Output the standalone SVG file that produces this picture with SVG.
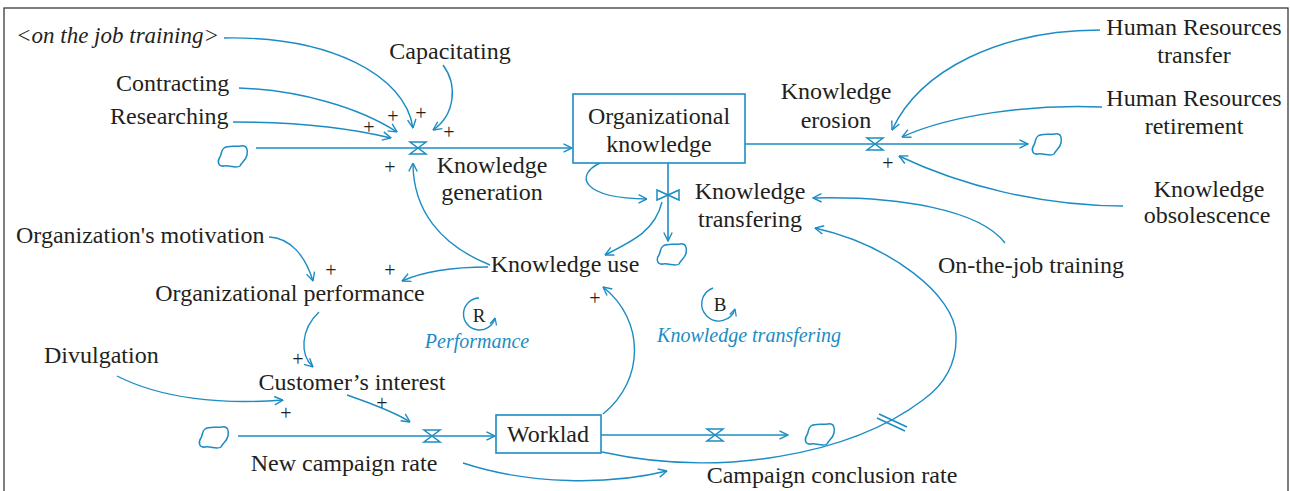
<svg xmlns="http://www.w3.org/2000/svg" width="1290" height="491" viewBox="0 0 1290 491">
<style>
.t{font-family:"Liberation Serif",serif;font-size:24px;fill:#231f20}
.m{text-anchor:middle}
.it{font-style:italic;font-size:23px}
.lb{font-family:"Liberation Serif",serif;font-size:20px;font-style:italic;fill:#1c8cc4;text-anchor:middle}
.p{font-family:"Liberation Serif",serif;font-size:20px;fill:#231f20;text-anchor:middle}
.c{fill:none;stroke:#1c8cc4;stroke-width:1.4;marker-end:url(#a)}
.f{fill:none;stroke:#1c8cc4;stroke-width:1.6}
.fa{fill:none;stroke:#1c8cc4;stroke-width:1.6;marker-end:url(#a)}
.s{fill:#fff;stroke:#1c8cc4;stroke-width:1.6}
.cl{fill:none;stroke:#1c8cc4;stroke-width:1.5}
.lp{fill:none;stroke:#1c8cc4;stroke-width:1.4;marker-end:url(#a2)}
</style>
<defs>
<marker id="a" viewBox="0 0 10 10" refX="9.5" refY="5" markerWidth="10" markerHeight="10" markerUnits="userSpaceOnUse" orient="auto">
<path d="M1,0.8 L9.5,5 L1,9.2" fill="none" stroke="#1c8cc4" stroke-width="1.4"/>
</marker>
<marker id="a2" viewBox="0 0 10 10" refX="9.5" refY="5" markerWidth="8" markerHeight="8" markerUnits="userSpaceOnUse" orient="auto">
<path d="M1,0.8 L9.5,5 L1,9.2" fill="none" stroke="#1c8cc4" stroke-width="1.6"/>
</marker>
<path id="cloud" d="M-9,-8 C-5,-11 2,-9 8,-10 C14,-11 15,-6 14,-1 C13,4 9,6 7,10 C3,13 -3,9 -9,10 C-15,11 -16,5 -13,1 C-11,-3 -12,-6 -9,-8 Z"/>
<path id="valveH" d="M-8,-6 L8,-6 L-8,6 L8,6 Z"/>
<path id="valveV" d="M-11,-5 L-11,5 L11,-5 L11,5 Z"/>
</defs>

<rect x="4" y="8" width="1284" height="500" fill="#fff" stroke="#3a3a3a" stroke-width="1.3"/>

<g id="connectors">
<path class="fa" d="M256,148 L572,148"/>
<path class="fa" d="M745,144 L1028,144"/>
<path class="fa" d="M668,163 L668,241"/>
<path class="fa" d="M238,436 L495,436"/>
<path class="fa" d="M601,435 L788,435"/>
<use href="#valveH" class="cl" x="418" y="148"/>
<use href="#valveH" class="cl" x="875" y="144"/>
<use href="#valveV" class="cl" x="668" y="195"/>
<use href="#valveH" class="cl" x="432" y="436"/>
<use href="#valveH" class="cl" x="715" y="435"/>
<use href="#cloud" class="cl" x="233" y="156"/>
<use href="#cloud" class="cl" x="1047" y="144"/>
<use href="#cloud" class="cl" x="672" y="254"/>
<use href="#cloud" class="cl" x="214" y="437"/>
<use href="#cloud" class="cl" x="820" y="434"/>
<path class="c" d="M224,38 C330,36 405,75 413,128"/>
<path class="c" d="M443,65 C458,85 455,115 433,130"/>
<path class="c" d="M239,88 C300,90 360,108 397,132"/>
<path class="c" d="M233,122 C300,122 350,128 391,138"/>
<path class="c" d="M490,265 C440,245 413,210 413,163"/>
<path class="c" d="M600,163 C575,175 580,198 647,199"/>
<path class="c" d="M662,202 C655,230 635,240 605,255"/>
<path class="c" d="M488,267 C450,267 420,273 402,281"/>
<path class="c" d="M269,237 C290,238 305,255 313,281"/>
<path class="c" d="M319,312 C300,330 300,355 313,367"/>
<path class="c" d="M117,376 C160,398 220,405 283,400"/>
<path class="c" d="M347,395 C370,403 395,412 410,422"/>
<path class="c" d="M603,414 C645,380 645,320 603,287"/>
<path class="c" d="M602,452 C720,478 850,455 923,400 C948,382 957,360 956,335 C955,295 890,245 815,228"/>
<path class="f" d="M879,414 L907,427 M877,418 L905,431" stroke-width="1.3"/>
<path class="c" d="M463,463 C530,485 610,485 667,471"/>
<path class="c" d="M1100,30 C1000,30 920,70 892,130"/>
<path class="c" d="M1102,107 C1030,104 950,115 902,137"/>
<path class="c" d="M1123,206 C1040,206 960,185 899,156"/>
<path class="c" d="M1005,243 C980,210 900,196 813,198"/>
</g>

<g id="stock-org-knowledge">
<rect class="s" x="573" y="94" width="172" height="69"/>
<text class="t m" x="659" y="124">Organizational</text>
<text class="t m" x="659" y="152">knowledge</text>
</g>
<g id="stock-worklad">
<rect class="s" x="496" y="415" width="105" height="38"/>
<text class="t m" x="548" y="442">Worklad</text>
</g>

<g id="var-on-the-job-shadow"><text class="t it" x="16" y="43">&lt;on the job training&gt;</text></g>
<g id="var-capacitating"><text class="t m" x="450" y="59">Capacitating</text></g>
<g id="var-contracting"><text class="t" x="116" y="91">Contracting</text></g>
<g id="var-researching"><text class="t" x="110" y="124">Researching</text></g>
<g id="rate-knowledge-generation"><text class="t m" x="492" y="173">Knowledge</text><text class="t m" x="492" y="200">generation</text></g>
<g id="rate-knowledge-erosion"><text class="t m" x="836" y="99">Knowledge</text><text class="t m" x="836" y="128">erosion</text></g>
<g id="var-hr-transfer"><text class="t m" x="1194" y="35">Human Resources</text><text class="t m" x="1194" y="63">transfer</text></g>
<g id="var-hr-retirement"><text class="t m" x="1194" y="106">Human Resources</text><text class="t m" x="1194" y="134">retirement</text></g>
<g id="var-knowledge-obsolescence"><text class="t m" x="1209" y="197">Knowledge</text><text class="t m" x="1207" y="223">obsolescence</text></g>
<g id="rate-knowledge-transfering"><text class="t m" x="750" y="199">Knowledge</text><text class="t m" x="750" y="227">transfering</text></g>
<g id="var-on-the-job-training"><text class="t" x="938" y="273">On-the-job training</text></g>
<g id="var-org-motivation"><text class="t" x="16" y="243">Organization's motivation</text></g>
<g id="var-knowledge-use"><text class="t m" x="565" y="272">Knowledge use</text></g>
<g id="var-org-performance"><text class="t m" x="290" y="301">Organizational performance</text></g>
<g id="var-divulgation"><text class="t" x="44" y="363">Divulgation</text></g>
<g id="var-customers-interest"><text class="t m" x="352" y="390">Customer’s interest</text></g>
<g id="rate-new-campaign"><text class="t m" x="344" y="471">New campaign rate</text></g>
<g id="rate-campaign-conclusion"><text class="t m" x="832" y="483">Campaign conclusion rate</text></g>

<g id="loop-R">
<path class="lp" d="M479,298 A16,16 0 1,0 495,318"/>
<text class="t m" x="479" y="322" style="font-size:19px">R</text>
<text class="lb" x="477" y="348">Performance</text>
</g>
<g id="loop-B">
<path class="lp" d="M713,288 A17,17 0 1,0 735,309"/>
<text class="t m" x="720" y="311" style="font-size:19px">B</text>
<text class="lb" x="749" y="342">Knowledge transfering</text>
</g>

<g id="polarities">
<text class="p" x="369" y="134">+</text>
<text class="p" x="393" y="123">+</text>
<text class="p" x="421" y="120">+</text>
<text class="p" x="449" y="139">+</text>
<text class="p" x="390" y="174">+</text>
<text class="p" x="331" y="277">+</text>
<text class="p" x="390" y="277">+</text>
<text class="p" x="298" y="366">+</text>
<text class="p" x="382" y="410">+</text>
<text class="p" x="286" y="420">+</text>
<text class="p" x="595" y="305">+</text>
<text class="p" x="888" y="170">+</text>
</g>
</svg>
